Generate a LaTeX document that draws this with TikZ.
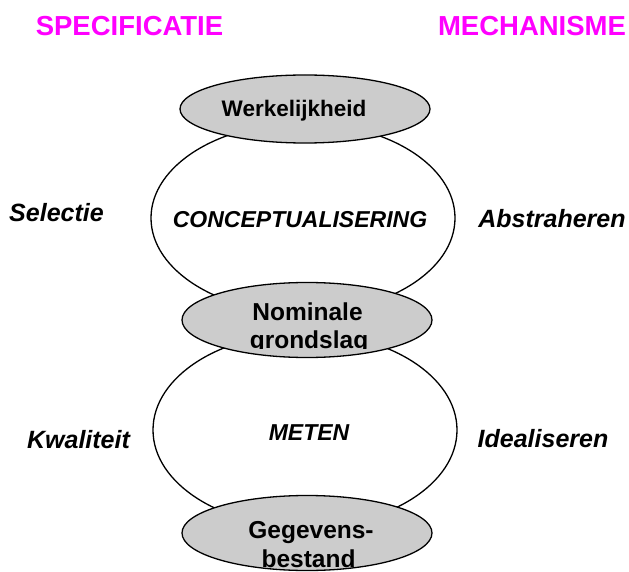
\documentclass[tikz,border=0pt]{standalone}
\usepackage{fontspec}
\setmainfont{Liberation Sans}
\usetikzlibrary{shapes.geometric}
\definecolor{titlemag}{HTML}{FF00FF}
\definecolor{cellgray}{HTML}{CCCCCC}
\tikzset{
  bigell/.style={draw=black, line width=1.3pt, fill=white, ellipse, inner sep=0pt},
  grayell/.style={draw=black, line width=1.3pt, fill=cellgray, ellipse, inner sep=0pt},
  lbl/.style={inner sep=0pt, anchor=base},
  titletxt/.style={lbl, text=titlemag, font=\fontsize{27.5}{30}\selectfont\bfseries},
  sidetxt/.style={lbl, font=\fontsize{25}{28}\selectfont\bfseries\itshape},
  midtxt/.style={lbl, font=\fontsize{23}{28}\selectfont\bfseries\itshape},
  graytxt/.style={lbl, font=\fontsize{24.5}{28}\selectfont\bfseries},
}
\begin{document}
\begin{tikzpicture}[x=1pt, y=-1pt]
\useasboundingbox (0,0) rectangle (629,572);
% big ellipses
\node[bigell, minimum width=304pt, minimum height=190pt] (concept) at (303,218) {};
\node[bigell, minimum width=304pt, minimum height=194pt] (meten) at (305,430) {};
% gray ellipses
\node[grayell, minimum width=250pt, minimum height=68pt] (werk) at (305,109) {};
\node[grayell, minimum width=250pt, minimum height=75pt] (nom) at (307,320) {};
\node[grayell, minimum width=250pt, minimum height=75pt] (data) at (307,533) {};
% titles
\node[titletxt] (spec) at (129.5,36) {SPECIFICATIE};
\node[titletxt] (mech) at (532,36) {MECHANISME};
% texts in ellipses
\node[graytxt, font=\fontsize{22.5}{28}\selectfont\bfseries] (twerk) at (294,117) {Werkelijkheid};
\node[midtxt] (tconcept) at (300,228) {CONCEPTUALISERING};
\node[graytxt] (tnom1) at (307.5,320) {Nominale};
\begin{scope}
  \clip (180,290) rectangle (440,348);
  \node[graytxt] (tnom2) at (309,348.5) {grondslag};
\end{scope}
\node[midtxt] (tmeten) at (309,440) {METEN};
\node[graytxt] (tdata1) at (311,538) {Gegevens-};
\node[graytxt] (tdata2) at (308.5,567) {bestand};
% side labels
\node[sidetxt] (sel) at (56.5,222) {Selectie};
\node[sidetxt] (abs) at (552,228) {Abstraheren};
\node[sidetxt] (kwal) at (78.5,448) {Kwaliteit};
\node[sidetxt] (ideal) at (543,447) {Idealiseren};
\end{tikzpicture}
\end{document}
